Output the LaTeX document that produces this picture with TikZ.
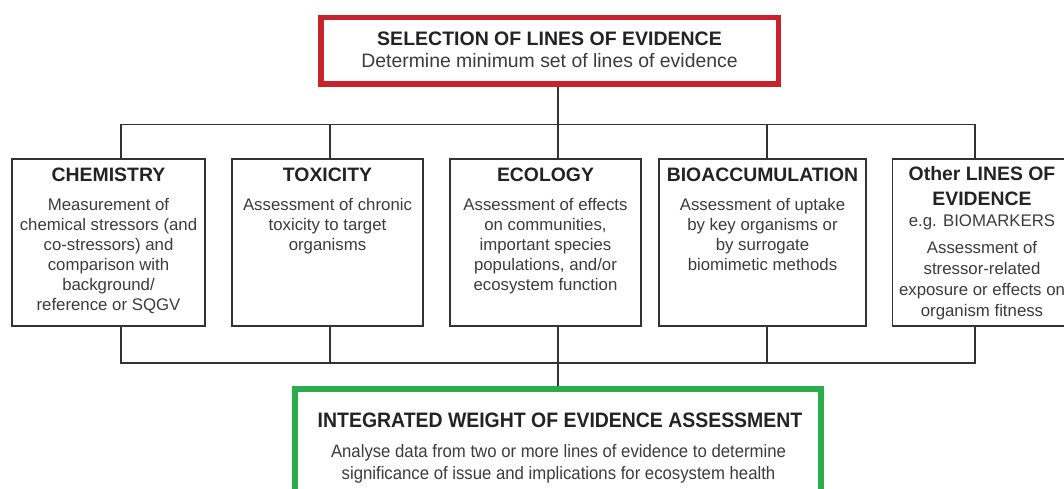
\documentclass[tikz,border=0pt]{standalone}
\usepackage{fontspec}
\setmainfont{Liberation Sans}
\newfontfamily\condfont[FakeStretch=0.93]{Liberation Sans}
\definecolor{linegray}{RGB}{50,50,50}
\definecolor{textdark}{RGB}{35,35,35}
\definecolor{textbody}{RGB}{60,60,60}
\definecolor{selred}{RGB}{200,35,45}
\definecolor{woegreen}{RGB}{45,172,75}
\begin{document}
% multi-line nodes are placed by the baseline of their last line
\begin{tikzpicture}[x=1pt,y=-1pt,
  lobox/.style={draw=linegray, line width=1.8pt, inner sep=0pt, minimum height=167pt},
  conn/.style={draw=linegray, line width=1.8pt},
  ttl/.style={anchor=base, text=textdark, font=\bfseries\fontsize{19.4}{25}\selectfont, align=center, inner sep=0pt},
  bodytxt/.style={anchor=base, text=textbody, font=\fontsize{16.8}{20}\selectfont, align=center, inner sep=0pt}]
\clip (0,0) rectangle (1064,489);
\fill[white] (0,0) rectangle (1064,489);

% selection box
\node[draw=selred, line width=5.5pt, minimum width=457.5pt, minimum height=66.5pt, inner sep=0pt] (sel) at (549.5,51) {};
\node[anchor=base, text=textdark, font=\bfseries\fontsize{19.5}{22}\selectfont, inner sep=0pt] (selT) at (549.5,46) {SELECTION OF LINES OF EVIDENCE};
\node[anchor=base, text=textbody, font=\fontsize{19.4}{22}\selectfont, inner sep=0pt] (selB) at (549.5,68) {Determine minimum set of lines of evidence};

% lines of evidence
\node[lobox, minimum width=193pt] (chem) at (108.5,242.5) {};
\node[lobox, minimum width=191pt] (tox) at (327.5,242.5) {};
\node[lobox, minimum width=191pt] (eco) at (545.5,242.5) {};
\node[lobox, minimum width=207pt] (bio) at (762.5,242.5) {};
\node[lobox, minimum width=179pt] (oth) at (982,242.5) {};

\node[ttl] (chemT) at (108.5,181) {CHEMISTRY};
\node[bodytxt] (chemB) at (108.5,310.5) {Measurement of\\chemical stressors (and\\co-stressors) and\\comparison with\\background/\\reference or SQGV};
\node[ttl] (toxT) at (327.5,181) {TOXICITY};
\node[bodytxt] (toxB) at (327.5,250) {Assessment of chronic\\toxicity to target\\organisms};
\node[ttl] (ecoT) at (545.5,181) {ECOLOGY};
\node[bodytxt] (ecoB) at (545.5,290) {Assessment of effects\\on communities,\\important species\\populations, and/or\\ecosystem function};
\node[ttl] (bioT) at (762.5,181) {BIOACCUMULATION};
\node[bodytxt] (bioB) at (762.5,270) {Assessment of uptake\\by key organisms or\\by surrogate\\biomimetic methods};
\node[ttl] (othT) at (982,205) {Other LINES OF\\EVIDENCE};
\node[bodytxt] (othE) at (982,226) {e.g. BIOMARKERS};
\node[bodytxt, font=\fontsize{16.8}{21}\selectfont] (othB) at (982,316) {Assessment of\\stressor-related\\exposure or effects on\\organism fitness};

% integrated assessment box
\node[draw=woegreen, line width=5.5pt, minimum width=526pt, minimum height=131pt, inner sep=0pt] (woe) at (557.9,454.4) {};
\node[anchor=base, text=textdark, font=\condfont\bfseries\fontsize{20.9}{24}\selectfont, inner sep=0pt] (woeT) at (560,427) {INTEGRATED WEIGHT OF EVIDENCE ASSESSMENT};
\node[anchor=base, text=textbody, font=\condfont\fontsize{18}{21.5}\selectfont, align=center, inner sep=0pt] (woeB) at (558.5,479) {Analyse data from two or more lines of evidence to determine\\significance of issue and implications for ecosystem health};

% connector columns and buses
\coordinate (x1) at (121,0);
\coordinate (x2) at (330,0);
\coordinate (x3) at (558,0);
\coordinate (x4) at (767,0);
\coordinate (x5) at (975,0);
\coordinate (topbus) at (558,124.5);
\coordinate (botbus) at (558,363);

\draw[conn] (sel.south -| x3) -- (eco.north -| x3);
\draw[conn] (chem.north -| x1) |- (topbus) -| (oth.north -| x5);
\draw[conn] (tox.north -| x2) -- (x2 |- topbus);
\draw[conn] (bio.north -| x4) -- (x4 |- topbus);

\draw[conn] (chem.south -| x1) |- (botbus) -| (oth.south -| x5);
\draw[conn] (tox.south -| x2) -- (x2 |- botbus);
\draw[conn] (bio.south -| x4) -- (x4 |- botbus);
\draw[conn] (eco.south -| x3) -- (woe.north -| x3);
\end{tikzpicture}
\end{document}
